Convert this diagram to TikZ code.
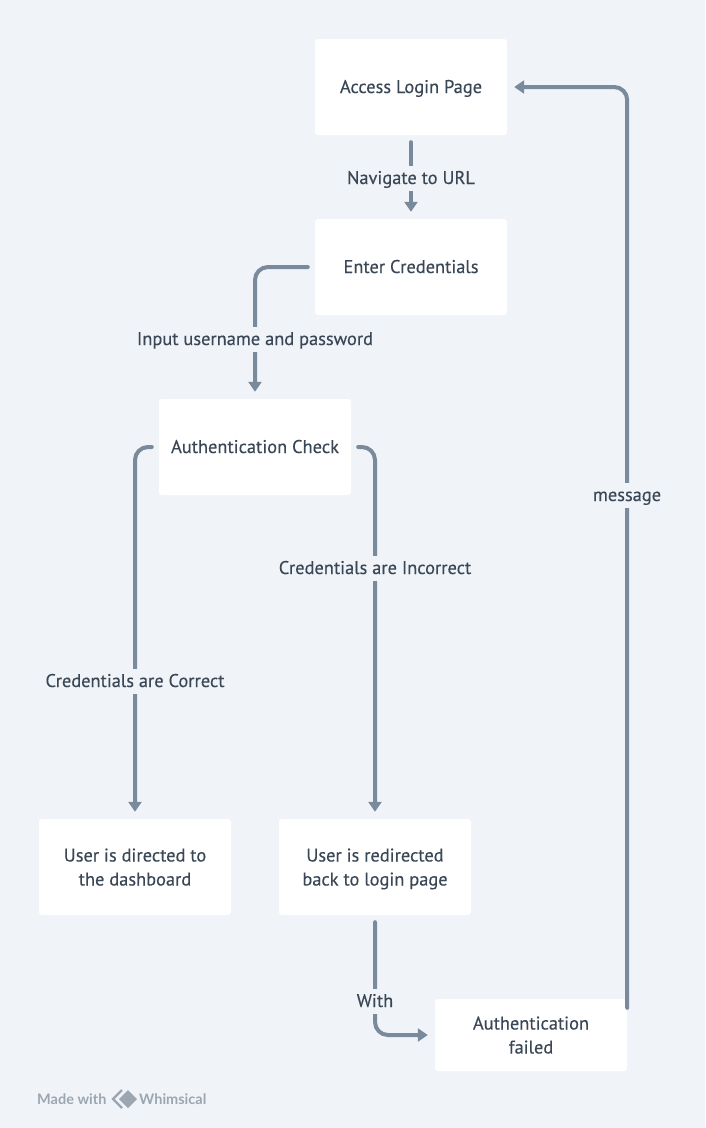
\documentclass[tikz,border=0pt]{standalone}
\usepackage{fontspec}
\setmainfont[FakeBold=0.3]{PT Sans}
\newfontfamily\logofont{Lato}
\usetikzlibrary{arrows.meta}
\definecolor{pagebg}{HTML}{F0F4F8}
\definecolor{flowline}{HTML}{788A9B}
\definecolor{flowtext}{HTML}{3A4756}
\definecolor{logogray}{HTML}{9BA6B1}
\newcommand{\linestrut}{\rule[-6pt]{0pt}{24pt}}
\newcommand{\tallstrut}{\rule{0pt}{19pt}}
\tikzset{
  stepbox/.style={fill=white, rounded corners=3pt, minimum width=192pt, minimum height=96pt, inner sep=0pt, align=center, text=flowtext, font=\fontsize{18.4}{24}\selectfont, execute at begin node=\linestrut, execute at end node=\linestrut},
  flow/.style={draw=flowline, line width=4pt, line cap=round, rounded corners=13pt, shorten <=7pt, shorten >=7pt, -{Triangle[length=10pt,width=13pt]}},
  flowlabel/.style={fill=pagebg, inner sep=0pt, minimum height=25pt, text=flowtext, font=\fontsize{18.4}{24}\selectfont, execute at begin node=\linestrut},
}
\begin{document}
\begin{tikzpicture}[x=1pt, y=-1pt]
\useasboundingbox[fill=pagebg] (0,0) rectangle (705,1128);
\node[stepbox] (login) at (411,87) {Access Login Page};
\node[stepbox] (cred) at (411,267) {Enter Credentials};
\node[stepbox] (auth) at (255,447) {Authentication Check};
\node[stepbox] (dash) at (135,867) {\tallstrut User is directed to\\the dashboard};
\node[stepbox] (redir) at (375,867) {\tallstrut User is redirected\\back to login page};
\node[stepbox, minimum height=72pt] (failed) at (531,1035) {\tallstrut Authentication\\failed};
\draw[flow] (login.south) -- (cred.north);
\draw[flow] (cred.west) -| (auth.north);
\draw[flow] (auth.west) -| (dash.north);
\draw[flow] (auth.east) -| (redir.north);
\draw[flow] (redir.south) |- (failed.west);
\draw[flow, shorten <=-9pt] (failed.north east) |- (login.east);
\node[flowlabel] (navlabel) at (411,178) {Navigate to URL};
\node[flowlabel] (inputlabel) at (255,339) {Input username and password};
\node[flowlabel] (correctlabel) at (135,681) {Credentials are Correct};
\node[flowlabel] (wronglabel) at (375,568) {Credentials are Incorrect};
\node[flowlabel] (withlabel) at (375,1001) {With};
\node[flowlabel] (msglabel) at (627,495) {message};
\node[text=logogray, font=\logofont\bfseries\fontsize{14.5}{16}\selectfont, anchor=west, inner sep=0pt] (madewith) at (37,1099) {Made with};
\node[text=logogray, font=\logofont\bfseries\fontsize{14.5}{16}\selectfont, anchor=west, inner sep=0pt] (whimsical) at (139,1099) {Whimsical};
\draw[logogray, line width=2.2pt] (122,1090) -- (113,1099) -- (122,1108);
\fill[logogray] (128,1090) -- (137,1099) -- (128,1108) -- (119,1099) -- cycle;
\end{tikzpicture}
\end{document}
